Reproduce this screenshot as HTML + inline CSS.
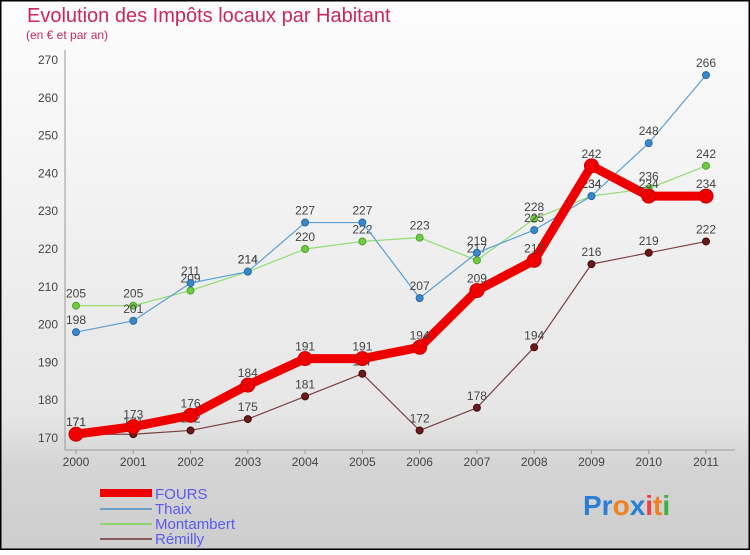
<!DOCTYPE html>
<html><head><meta charset="utf-8">
<style>
html,body{margin:0;padding:0;}
body{width:750px;height:550px;overflow:hidden;font-family:"Liberation Sans",sans-serif;}
svg text{font-family:"Liberation Sans",sans-serif;}
</style></head>
<body>
<svg id="chart" width="750" height="550" viewBox="0 0 750 550">
<defs>
<linearGradient id="bg" x1="0" y1="0" x2="0" y2="1">
<stop offset="0" stop-color="#fdfdfd"/><stop offset="0.75" stop-color="#e6e6e6"/><stop offset="0.85" stop-color="#d4d4d4"/><stop offset="1" stop-color="#cecece"/>
</linearGradient>
</defs>
<rect x="0" y="0" width="750" height="550" fill="url(#bg)"/>
<rect x="0.5" y="0.5" width="749" height="549" fill="none" stroke="#000" stroke-width="2"/>
<text x="27" y="22" font-size="20" fill="#c8285a">Evolution des Impôts locaux par Habitant</text>
<text x="26" y="39" font-size="12" fill="#c8285a">(en € et par an)</text>
<line x1="65" y1="50" x2="65" y2="450" stroke="#999"/>
<line x1="65" y1="450" x2="735" y2="450" stroke="#999"/>
<g id="axes"></g>
<g id="series"></g>
<g>
<rect x="100" y="489" width="52" height="8" fill="#e00"/>
<line x1="100" y1="509" x2="152" y2="509" stroke="#6fa0c8" stroke-width="2"/>
<line x1="100" y1="524" x2="152" y2="524" stroke="#8fd46f" stroke-width="2"/>
<line x1="100" y1="539" x2="152" y2="539" stroke="#8a5a5a" stroke-width="2"/>
<text x="155" y="499" font-size="15" fill="#5a5aee">FOURS</text>
<text x="155" y="514" font-size="15" fill="#5a5aee">Thaix</text>
<text x="155" y="529" font-size="15" fill="#5a5aee">Montambert</text>
<text x="155" y="544" font-size="15" fill="#5a5aee">Rémilly</text>
</g>
<text x="583" y="515" font-size="28" font-weight="bold"><tspan fill="#2a7fd4">Pr</tspan><tspan fill="#f08020">o</tspan><tspan fill="#2a7fd4">x</tspan><tspan fill="#f04040">i</tspan><tspan fill="#f08020">t</tspan><tspan fill="#40b040">i</tspan></text>
</svg>
<script>
const years = [2000,2001,2002,2003,2004,2005,2006,2007,2008,2009,2010,2011];
const yTicks = [170,180,190,200,210,220,230,240,250,260,270];
const fours = [171,173,176,184,191,191,194,209,217,242,234,234];
const thaix = [198,201,211,214,227,227,207,219,225,234,248,266];
const montambert = [205,205,209,214,220,222,223,217,228,234,236,242];
const remilly = [171,171,172,175,181,187,172,178,194,216,219,222];

const NS = "http://www.w3.org/2000/svg";
function xPos(i){ return 76 + i*(706-76)/(years.length-1); }
function yPos(v){ return 438 - (v-170)*(438-60)/100; }
function mk(tag, attrs, parent){ const e=document.createElementNS(NS,tag); for(const k in attrs) e.setAttribute(k,attrs[k]); parent.appendChild(e); return e; }
const axes=document.getElementById('axes');
yTicks.forEach(v=>{
  const t=mk('text',{x:58,y:yPos(v)+4,'font-size':12,fill:'#444','text-anchor':'end'},axes);
  t.textContent=v;
  
  
});
years.forEach((y,i)=>{
  const t=mk('text',{x:xPos(i),y:466,'font-size':12,fill:'#444','text-anchor':'middle'},axes);
  t.textContent=y;
  
  
  const l=mk('line',{x1:xPos(i),y1:450,x2:xPos(i),y2:454,stroke:'#999'},axes);
  
  
});
const seriesG=document.getElementById('series');
function draw(vals,name,color,width,r,dot,dotStroke){
  const g=mk('g',{},seriesG);
  
  
  const pts=vals.map((v,i)=>xPos(i)+','+yPos(v)).join(' ');
  const pl=mk('polyline',{points:pts,fill:'none',stroke:color,'stroke-width':width,'stroke-linejoin':'round'},g);
  
  
  vals.forEach((v,i)=>{
    const c=mk('circle',{cx:xPos(i),cy:yPos(v),r:r,fill:dot,stroke:dotStroke,'stroke-width':1},g);
    
    
    const t=mk('text',{x:xPos(i),y:yPos(v)-8,'font-size':12,fill:'#444','text-anchor':'middle'},g);
    t.textContent=v;
    
    
  });
}
draw(remilly,'remilly','#7a4040',1.2,3.5,'#6a1a1a','#4a0a0a');
draw(montambert,'montambert','#90dc70',1.2,3.5,'#70cc40','#50a030');
draw(thaix,'thaix','#5aa0d8',1.2,3.5,'#3a88cc','#2a6aa0');
draw(fours,'fours','#ee0000',9,7,'#ee0000','#cc0000');
</script>
</body></html>
